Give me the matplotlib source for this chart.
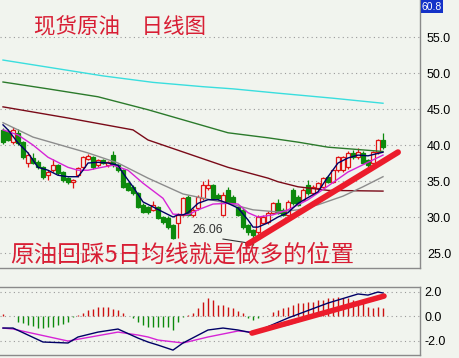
import numpy as np
import matplotlib.pyplot as plt
from matplotlib.patches import Rectangle

# daily candles (oldest first)
opens = [42.1, 41.9, 40.4, 41.7, 40.4, 37.5, 38.2, 37.6, 36.9, 35.8,
         36.5, 37.2, 36.2, 35.4, 34.9, 35.8, 36.9, 38.1, 38.3, 37.2,
         37.9, 37.2, 38.6, 37.2, 36.5, 34.7, 34.2, 33.3, 31.7, 31.4,
         31.0, 31.4, 30.0, 29.9, 28.9, 29.2, 30.3, 32.8, 30.3, 31.2,
         32.6, 34.0, 34.4, 33.1, 30.3, 33.8, 32.8, 31.4, 31.0, 28.9,
         28.2, 27.9, 29.2, 29.3, 30.6, 31.9, 31.0, 30.3, 33.8, 32.8,
         32.4, 34.4, 33.3, 34.0, 34.2, 35.6, 34.9, 36.5, 36.5, 36.9,
         38.9, 38.3, 38.9, 37.9, 37.5, 39.0, 40.7]
highs = [42.4, 42.2, 42.5, 42.2, 40.6, 39.0, 38.9, 37.9, 37.1, 36.5,
         38.0, 37.4, 36.4, 35.6, 35.3, 37.0, 38.5, 38.7, 38.5, 38.1,
         38.1, 37.8, 39.1, 37.4, 36.7, 34.9, 34.4, 33.5, 31.9, 31.6,
         32.2, 31.6, 30.2, 30.1, 29.1, 30.6, 32.8, 33.0, 31.2, 33.0,
         35.0, 35.3, 34.6, 33.3, 33.5, 34.2, 33.0, 31.6, 31.2, 29.1,
         28.4, 30.3, 30.3, 30.8, 32.1, 32.5, 31.2, 32.3, 34.0, 33.0,
         34.0, 35.1, 34.4, 34.9, 35.6, 35.8, 36.7, 38.5, 38.5, 39.1,
         39.3, 39.6, 39.1, 38.1, 39.2, 40.9, 41.7]
lows = [40.2, 40.5, 40.2, 40.0, 38.1, 36.9, 37.3, 36.7, 35.3, 35.1,
        36.3, 35.9, 34.9, 34.6, 34.0, 35.6, 36.7, 37.9, 36.7, 37.0,
        37.3, 37.0, 37.0, 36.3, 34.0, 33.6, 33.1, 31.2, 30.5, 30.4,
        30.8, 29.7, 29.1, 28.4, 26.9, 27.1, 30.1, 30.1, 30.0, 31.0,
        32.4, 33.8, 32.4, 32.4, 30.1, 31.9, 31.7, 30.1, 28.4, 27.5,
        26.06, 27.6, 29.0, 29.1, 30.4, 30.4, 30.1, 30.1, 31.7, 31.5,
        32.2, 33.1, 33.1, 33.8, 34.0, 34.7, 34.7, 36.3, 36.3, 36.7,
        38.1, 38.1, 37.3, 37.0, 37.3, 38.8, 39.5]
closes = [40.4, 40.7, 42.1, 40.3, 38.3, 38.6, 37.5, 36.9, 35.6, 36.3,
          37.2, 36.1, 35.1, 34.9, 35.1, 36.8, 38.3, 38.5, 36.9, 37.9,
          37.5, 37.6, 37.2, 36.5, 34.2, 33.8, 33.3, 31.4, 30.7, 30.7,
          31.7, 29.9, 29.3, 28.6, 27.1, 30.3, 32.6, 30.3, 31.0, 32.8,
          34.4, 34.4, 32.6, 32.6, 33.1, 32.1, 31.9, 30.3, 28.6, 27.9,
          27.5, 30.0, 30.0, 30.6, 31.9, 30.6, 30.3, 32.1, 31.9, 31.7,
          33.8, 33.3, 34.2, 34.7, 35.4, 34.9, 36.5, 38.3, 38.3, 38.9,
          38.3, 39.0, 37.5, 37.2, 39.0, 40.7, 39.7]

# moving averages, read at candle positions
ma5_idx = [0, 1, 3, 5, 7, 9, 11, 13, 15, 16, 17, 19, 21, 23, 24, 26, 28, 30,
           32, 34, 35, 36, 37, 39, 41, 43, 45, 47, 49, 50, 51, 53, 55, 57,
           59, 63, 65, 67, 69, 71, 73, 76]
ma5_val = [42.8, 42.1, 40.3, 38.9, 36.9, 36.5, 35.8, 35.6, 35.6, 36.5, 37.5,
           37.6, 37.5, 37.2, 36.1, 34.2, 32.1, 31.4, 30.7, 30.0, 30.3, 30.3,
           30.6, 31.9, 32.4, 32.4, 31.9, 31.25, 29.6, 28.6, 28.6, 29.2, 30.0,
           30.6, 31.9, 33.5, 35.6, 37.5, 38.2, 38.6, 38.5, 39.0]
ma10_idx = [0, 3, 6, 9, 13, 15, 17, 19, 22, 25, 28, 32, 34, 37, 39, 42, 45,
            47, 49, 51, 54, 57, 61, 65, 69, 73, 76]
ma10_val = [42.1, 41.4, 40.0, 38.3, 36.9, 36.5, 36.5, 36.8, 37.2, 36.5, 34.7,
            32.6, 30.4, 30.3, 31.0, 31.8, 31.9, 31.8, 30.6, 30.0, 30.3, 31.0,
            32.4, 34.3, 36.25, 37.6, 38.6]
ma30_idx = [0, 6, 13, 17, 23, 29, 36, 45, 50, 55, 59, 63, 68, 72, 76]
ma30_val = [43.1, 41.1, 39.7, 38.9, 37.5, 35.4, 33.2, 31.9, 31.0, 30.7, 31.0,
            31.7, 32.9, 34.2, 35.6]
ma60_idx = [0, 13, 26, 29, 45, 53, 55, 59, 65, 76]
ma60_val = [45.3, 43.75, 42.1, 40.7, 36.9, 35.4, 34.9, 34.2, 33.7, 33.6]
ma120_idx = [0, 9, 19, 29, 39, 45, 53, 59, 65, 76]
ma120_val = [48.75, 47.8, 46.7, 44.9, 42.9, 41.7, 41.0, 40.4, 39.7, 39.1]
ma250_idx = [0, 10, 20, 30, 40, 46, 55, 66, 76]
ma250_val = [51.8, 50.7, 49.6, 48.7, 48.1, 47.8, 47.2, 46.5, 45.8]

# MACD
dif_idx = [0, 2, 8, 13, 15, 19, 23, 27, 29, 31, 34, 36, 41, 44, 47, 50, 57,
           65, 71, 73, 75, 76]
dif_val = [-0.98, -0.98, -2.12, -2.2, -1.71, -1.31, -1.06, -1.8, -2.12, -2.37,
           -2.78, -2.2, -1.14, -0.98, -1.14, -1.39, -0.16, 1.06, 1.8, 1.71,
           1.96, 1.88]
dea_idx = [0, 2, 13, 23, 27, 29, 31, 36, 41, 47, 50, 57, 65, 76]
dea_val = [-0.98, -1.06, -2.04, -1.31, -1.55, -1.71, -1.96, -2.2, -1.71,
           -1.22, -1.31, -0.73, 0.33, 1.47]
macd_hist = [0.2, 0.0, 0.0, -0.45, -0.6, -0.75, -0.85, -1.0, -1.0, -0.9,
             -0.9, -0.75, -0.65, -0.5, -0.05, 0.05, 0.25, 0.5, 0.6, 0.7,
             0.7, 0.7, 0.6, 0.5, 0.25, 0.0, -0.16, -0.45, -0.7, -0.87,
             -0.87, -0.87, -0.87, -0.87, -1.1, -0.45, -0.05, 0.05, 0.22, 0.63,
             1.17, 1.44, 1.31, 0.9, 0.9, 0.76, 0.63, 0.45, 0.22, -0.2,
             -0.3, -0.2, -0.02, 0.02, 0.35, 0.49, 0.63, 0.76, 0.9, 1.03,
             1.03, 1.17, 1.17, 1.31, 1.31, 1.44, 1.44, 1.58, 1.44, 1.44,
             1.31, 1.17, 1.03, 0.76, 0.63, 0.76, 0.63]

# hand-drawn trend lines and the low marker
trend_idx = [49, 79]
trend_val = [26.25, 39.0]
macd_trend_idx = [49.8, 76.2]
macd_trend_val = [-1.39, 1.63]
low_label = "26.06"

price_ticks = [25, 30, 35, 40, 45, 50, 55]
macd_ticks = [-2, 0, 2]

BG = '#f1f4ee'
UP = '#e01414'
DOWN = '#0c8a0c'
MARK = '#ec1c2c'
TXT = '#d81e34'
GRID = '#9a9a9a'
SPINE = '#8a8a8a'
CJK = ['Noto Sans CJK SC', 'DejaVu Sans']

plt.rcParams['font.family'] = ['Liberation Sans', 'DejaVu Sans']

fig = plt.figure(figsize=(4.6, 3.58), dpi=100, facecolor=BG)
ax = fig.add_axes([0, 1 - 268 / 358, 420 / 460, 268 / 358], facecolor=BG)
ax2 = fig.add_axes([0, 1 - 355 / 358, 420 / 460, 68 / 358], facecolor=BG)

xlim = (-0.6, 83.4)

# candles
for i in range(len(closes)):
    o, h, l, c = opens[i], highs[i], lows[i], closes[i]
    col = UP if c >= o else DOWN
    ax.vlines(i, l, h, color=col, lw=0.9, zorder=2)
    body = max(abs(c - o), 0.08)
    ax.add_patch(Rectangle((i - 0.38, min(o, c)), 0.76, body,
                           facecolor=BG if c >= o else DOWN,
                           edgecolor=col, lw=0.9, zorder=2))

ax.plot(ma250_idx, ma250_val, color='#3adede', lw=1.0, zorder=3)
ax.plot(ma120_idx, ma120_val, color='#2b7a2b', lw=1.0, zorder=3)
ax.plot(ma60_idx, ma60_val, color='#7a0a18', lw=1.0, zorder=3)
ax.plot(ma30_idx, ma30_val, color='#8c8c8c', lw=1.0, zorder=3)
ax.plot(ma10_idx, ma10_val, color='#d624d6', lw=1.0, zorder=3)
ax.plot(ma5_idx, ma5_val, color='#000066', lw=1.0, zorder=3)

ax.plot(trend_idx, trend_val, color=MARK, lw=4.3, solid_capstyle='round',
        zorder=5)

# low marker
ax.plot([44, 49], [26.94, 26.4], color='#333333', lw=0.8, zorder=4)
ax.text(37.8, 28.2, low_label, fontsize=8.7, color='#333333',
        ha='left', va='center', zorder=4)

ax.set_xlim(*xlim)
ax.set_ylim(22.92, 60.14)
ax.set_yticks(price_ticks)
ax.set_yticklabels([f"{t:.1f}" for t in price_ticks])
ax.set_xticks([])
ax.yaxis.tick_right()
ax.tick_params(axis='y', length=0, pad=5, labelsize=9, colors='black')
for t in price_ticks:
    ax.axhline(t, color=GRID, lw=0.8, ls=(0, (1, 3)), zorder=1)
for s in ['left', 'top']:
    ax.spines[s].set_visible(False)
for s in ['right', 'bottom']:
    ax.spines[s].set_color(SPINE)
    ax.spines[s].set_linewidth(1.0)

# MACD panel
hist_x = np.arange(len(macd_hist))
hist = np.array(macd_hist)
ax2.vlines(hist_x[hist >= 0], 0, hist[hist >= 0], color='#cc1010', lw=1.0,
           zorder=2)
ax2.vlines(hist_x[hist < 0], 0, hist[hist < 0], color='#0c8a0c', lw=1.0,
           zorder=2)
ax2.plot(dea_idx, dea_val, color='#d624d6', lw=1.0, zorder=3)
ax2.plot(dif_idx, dif_val, color='#000066', lw=1.0, zorder=3)
ax2.plot(macd_trend_idx, macd_trend_val, color=MARK, lw=4.0,
         solid_capstyle='round', zorder=5)

ax2.set_xlim(*xlim)
ax2.set_ylim(-3.18, 2.37)
ax2.set_yticks(macd_ticks)
ax2.set_yticklabels([f"{t:.1f}" for t in macd_ticks])
ax2.set_xticks([])
ax2.yaxis.tick_right()
ax2.tick_params(axis='y', length=0, pad=3, labelsize=9, colors='black')
for t in macd_ticks:
    ax2.axhline(t, color=GRID, lw=0.8, ls=(0, (1, 3)), zorder=1)
ax2.spines['left'].set_visible(False)
for s in ['right', 'bottom', 'top']:
    ax2.spines[s].set_color(SPINE)
    ax2.spines[s].set_linewidth(1.0)

# captions
fig.text(120 / 460, 1 - 27 / 358, "现货原油\u3000日线图", family=CJK,
         fontsize=15.5, color=TXT, ha='center', va='center')
fig.text(182 / 460, 1 - 255 / 358, "原油回踩5日均线就是做多的位置", family=CJK,
         fontsize=17, color=TXT, ha='center', va='center')

# top price label
fig.text(422 / 460, 1 - 1.5 / 358, "60.8", fontsize=7.5, color='white',
         ha='left', va='top',
         bbox=dict(boxstyle='square,pad=0.12', facecolor='#1432c8',
                   edgecolor='none'))

fig.savefig("out.png", dpi=100, facecolor=BG)
